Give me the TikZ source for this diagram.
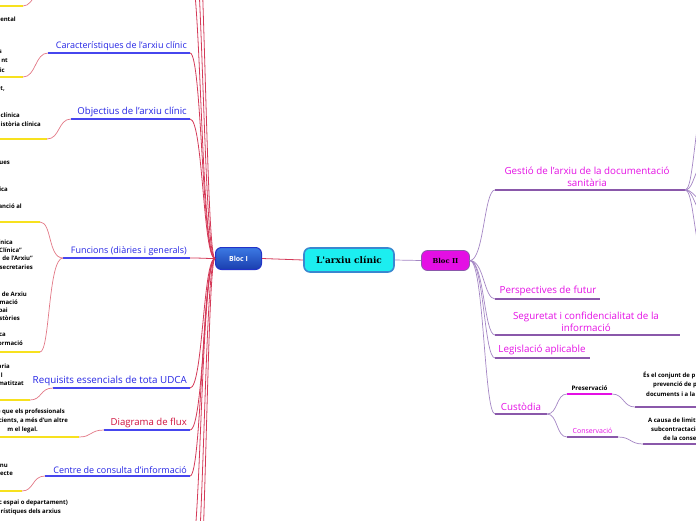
\documentclass[tikz,border=0pt]{standalone}
\usepackage{fontspec}
\setmainfont{Open Sans}
\newfontfamily\titlefont{DejaVu Serif}
\usetikzlibrary{positioning}
\usepackage{xcolor}
\definecolor{topicblue}{HTML}{2424E4}
\definecolor{lineblue}{HTML}{4646EE}
\definecolor{flowred}{HTML}{D0103C}
\definecolor{branchpink}{HTML}{E27886}
\definecolor{bundlered}{HTML}{D43A58}
\definecolor{leafyellow}{HTML}{F7E11E}
\definecolor{branchpurple}{HTML}{A486C4}
\definecolor{linepurple}{HTML}{8A58AA}
\definecolor{topicmagenta}{HTML}{E40FE4}
\definecolor{centrecyan}{HTML}{1CEEF0}
\definecolor{centreborder}{HTML}{3A88D0}
\definecolor{bloctop}{HTML}{3C7AE4}
\definecolor{blocbottom}{HTML}{1A3EAE}
\definecolor{blocborder}{HTML}{2233C8}

\begin{document}
\begin{tikzpicture}[
    x=1pt, y=-1pt,
    every node/.style={inner sep=1pt},
    centre/.style={draw=centreborder, line width=1.6pt, fill=centrecyan, rounded corners=6pt, minimum width=90pt, minimum height=24pt, font=\titlefont\bfseries\fontsize{9}{10}\selectfont},
    blocone/.style={draw=blocborder, line width=1pt, top color=bloctop, bottom color=blocbottom, rounded corners=6pt, minimum width=46pt, minimum height=22pt, text=white, font=\bfseries\fontsize{7}{8}\selectfont},
    bloctwo/.style={draw=linepurple, line width=0.8pt, fill=topicmagenta, rounded corners=6pt, minimum width=48pt, minimum height=20pt, font=\titlefont\bfseries\fontsize{6.8}{8}\selectfont},
    topic/.style={text=topicblue, font=\fontsize{9}{10}\selectfont, anchor=south east},
    rtopic/.style={text=topicmagenta, font=\fontsize{9.8}{12}\selectfont, anchor=south, align=center},
    subtopic/.style={font=\bfseries\fontsize{6.2}{7}\selectfont, anchor=south},
    leaf/.style={font=\bfseries\fontsize{6}{8.5}\selectfont, inner sep=0pt},
    bline/.style={lineblue, line width=1.8pt},
    yline/.style={leafyellow, line width=1.6pt},
    pline/.style={linepurple, line width=1.8pt},
    pinkedge/.style={branchpink, line width=0.7pt},
    redge/.style={bundlered, line width=0.8pt},
    purpedge/.style={branchpurple, line width=0.7pt},
]
\useasboundingbox (0,0) rectangle (696,520);
\clip (0,0) rectangle (696,520);

% centre and the two blocs
\node[centre] (arxiu) at (349,260) {L'arxiu clínic};
\node[blocone] (bloc1) at (238.5,258.5) {Bloc I};
\node[bloctwo] (bloc2) at (445.5,260.5) {Bloc II};
\draw[redge] (arxiu.west) -- (bloc1.east);
\draw[purpedge] (arxiu.east) -- (bloc2.west);

% Bloc I topics
\coordinate (car-l) at (48,53);   \coordinate (car-r) at (190,53);
\coordinate (obj-l) at (71,119);  \coordinate (obj-r) at (190,119);
\coordinate (fun-l) at (63,258);  \coordinate (fun-r) at (190,258);
\coordinate (req-l) at (53,388);  \coordinate (req-r) at (190,388);
\coordinate (dia-l) at (104,430); \coordinate (dia-r) at (190,430);
\coordinate (cen-l) at (45,476);  \coordinate (cen-r) at (190,476);
\coordinate (up1-r) at (190,-30);  \coordinate (up2-r) at (190,-90);
\coordinate (up3-r) at (190,-160); \coordinate (dn1-r) at (190,560);
\coordinate (dn2-r) at (190,620);  \coordinate (dn3-r) at (190,690);

\node[topic] (car) at (188,52) {Característiques de l'arxiu clínic};
\node[topic, font=\fontsize{9.6}{10}\selectfont] (obj) at (188,118) {Objectius de l'arxiu clínic};
\node[topic] (fun) at (188,257) {Funcions (diàries i generals)};
\node[topic, font=\fontsize{9.8}{10}\selectfont] (req) at (188,387) {Requisits essencials de tota UDCA};
\node[topic, text=flowred, font=\fontsize{9.6}{10}\selectfont] (dia) at (188,429) {Diagrama de flux};
\node[topic] (cen) at (188,475) {Centre de consulta d'informació};

\foreach \t in {car,obj,fun,req,dia,cen}
  \draw[bline] (\t-l) -- (\t-r);

\foreach \t/\yy/\xv in {car/53/202, obj/119/203, fun/258/204, req/388/203, dia/430/204, cen/476/202,
    up1/-30/201, up2/-90/203, up3/-160/205, dn1/560/201, dn2/620/204, dn3/690/206}
  \draw[redge] (bloc1.west) .. controls (\xv,258.5) and (\xv,\yy) .. (\t-r);

% leaves of Bloc I
\coordinate (top-e) at (23,6);   \coordinate (top-t) at (48,-20);
\coordinate (lcar-e) at (23,77);
\coordinate (lobj-e) at (47,139);
\coordinate (lfun1-e) at (40,222);
\coordinate (lfun2-e) at (40,352);
\coordinate (lreq-e) at (30,400);
\coordinate (ldia-e) at (79,437);
\coordinate (lcen-e) at (22,491);

\foreach \e in {top,lcar,lobj,lfun1,lfun2,lreq,ldia,lcen}
  \draw[yline] (0,0 |- \e-e) -- (\e-e);

\draw[pinkedge] (top-e) .. controls (35,6) and (38,-20) .. (top-t);
\draw[pinkedge] (lcar-e) .. controls (36,77) and (35,53) .. (car-l);
\draw[pinkedge] (lobj-e) .. controls (60,139) and (58,119) .. (obj-l);
\draw[pinkedge] (lfun1-e) .. controls (52,222) and (48,258) .. (fun-l);
\draw[pinkedge] (lfun2-e) .. controls (50,352) and (48,258) .. (fun-l);
\draw[pinkedge] (lreq-e) .. controls (42,400) and (40,388) .. (req-l);
\draw[pinkedge] (ldia-e) .. controls (92,437) and (90,430) .. (dia-l);
\draw[pinkedge] (lcen-e) .. controls (34,491) and (32,476) .. (cen-l);

\foreach \xe/\yc/\txt [count=\i] in {
    16/19/umental, 2/52/s, 8/61/nt, 5/70/ic, 5/89/{nt,},
    20/115/clínica, 41/124/istòria clínica, 10/163/ues,
    8/189/ica, 22/206/anció al,
    13/242/ínica, 22/250/{`Clínica''}, 33/258/{de l'Arxiu''}, 33/267/secretaries,
    27/294/de Arxiu, 18/302/rmació, 8/311/pai, 20/318/istòries,
    6/335/ca, 23/343/formació,
    10/366/aria, 3/375/l, 24/383/matitzat,
    65/412/e que els professionals, 68/421/{cients, a més d'un altre}, 38/430/m el legal.,
    8/466/nu, 13/474/ecte,
    68/503/c espai o departament), 61/512/rístiques dels arxius}
  \node[leaf, anchor=east] (leaf\i) at (\xe,\yc) {\txt};

% Bloc II topics
\coordinate (ges-l) at (495,190); \coordinate (ges-r) at (685,190);
\coordinate (per-l) at (495,299); \coordinate (per-r) at (600,299);
\coordinate (seg-l) at (495,335); \coordinate (seg-r) at (680,335);
\coordinate (leg-l) at (495,358); \coordinate (leg-r) at (590,358);
\coordinate (cus-l) at (495,414); \coordinate (cus-r) at (547,414);

\node[rtopic] (ges) at (587,188) {Gestió de l'arxiu de la documentació\\sanitària};
\node[rtopic] (per) at (548,297) {Perspectives de futur};
\node[rtopic] (seg) at (586,333) {Seguretat i confidencialitat de la\\informació};
\node[rtopic] (leg) at (542,356) {Legislació aplicable};
\node[rtopic] (cus) at (521,412) {Custòdia};

\foreach \t/\yy in {ges/190, per/299, seg/335, leg/358, cus/414} {
  \draw[pline] (\t-l) -- (\t-r);
  \draw[purpedge] (bloc2.east) .. controls (484,260.5) and (484,\yy) .. (\t-l);
}

% fan at the right end of Gestió
\foreach \yy in {110,165,200,212,255}
  \draw[purpedge] (ges-r) .. controls (692,190) and (693,{(190+\yy)/2}) .. (700,\yy);

% Custòdia branches
\coordinate (pre-l) at (567,394); \coordinate (pre-r) at (612,394);
\coordinate (con-l) at (567,437); \coordinate (con-r) at (618,437);
\coordinate (lpre-l) at (635,407); \coordinate (lpre-r) at (700,407);
\coordinate (lcon-l) at (643,444); \coordinate (lcon-r) at (700,444);

\node[subtopic] (pre) at (589.5,392) {Preservació};
\node[subtopic, text=topicmagenta, font=\fontsize{7}{8}\selectfont] (con) at (592.5,435) {Conservació};
\draw[topicmagenta, line width=1.6pt] (pre-l) -- (pre-r);
\draw[linepurple, line width=1.6pt] (con-l) -- (con-r);
\draw[linepurple, line width=1.6pt] (lpre-l) -- (lpre-r);
\draw[linepurple, line width=1.6pt] (lcon-l) -- (lcon-r);

\draw[purpedge] (cus-r) .. controls (558,414) and (556,394) .. (pre-l);
\draw[purpedge] (cus-r) .. controls (558,414) and (556,437) .. (con-l);
\draw[purpedge] (pre-r) .. controls (624,394) and (623,407) .. (lpre-l);
\draw[purpedge] (con-r) .. controls (631,437) and (630,444) .. (lcon-l);

\node[leaf, anchor=west] (rleaf1) at (643,375) {És el conjunt de p};
\node[leaf, anchor=west] (rleaf2) at (653,385) {prevenció de p};
\node[leaf, anchor=west] (rleaf3) at (646,394) {documents i a la};
\node[leaf, anchor=west] (rleaf4) at (648,420) {A causa de limit};
\node[leaf, anchor=west] (rleaf5) at (651,429) {subcontractació};
\node[leaf, anchor=west] (rleaf6) at (663,438) {de la conse};
\end{tikzpicture}
\end{document}
